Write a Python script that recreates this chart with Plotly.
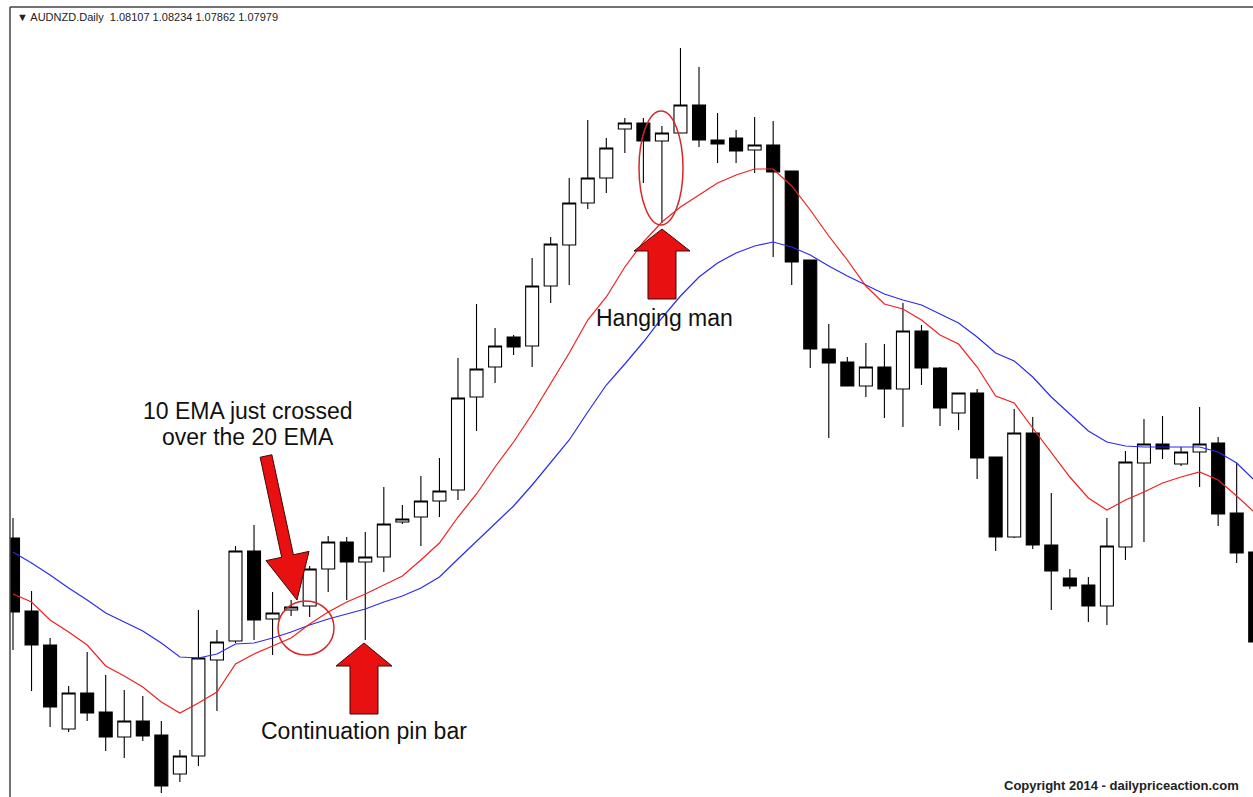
import plotly.graph_objects as go

# AUDNZD daily bars (index = bar number from the left edge of the chart)
bar_index = list(range(68))

open_ = [1.08462, 1.08389, 1.08355, 1.08271, 1.08307, 1.08288, 1.08263, 1.08279, 1.08265, 1.08226,
         1.08244, 1.08340, 1.08359, 1.08449, 1.08381, 1.08390, 1.08394, 1.08431, 1.08458, 1.08438,
         1.08443, 1.08478, 1.08483, 1.08499, 1.08510, 1.08603, 1.08633, 1.08663, 1.08654, 1.08714,
         1.08755, 1.08797, 1.08822, 1.08871, 1.08877, 1.08859, 1.08867, 1.08895, 1.08860, 1.08862,
         1.08850, 1.08855, 1.08829, 1.08740, 1.08651, 1.08638, 1.08614, 1.08633, 1.08611, 1.08669,
         1.08632, 1.08587, 1.08607, 1.08543, 1.08463, 1.08567, 1.08455, 1.08422, 1.08415, 1.08394,
         1.08453, 1.08537, 1.08556, 1.08536, 1.08548, 1.08557, 1.08487, 1.08448]
high = [1.08482, 1.08409, 1.08362, 1.08314, 1.08348, 1.08325, 1.08310, 1.08304, 1.08279, 1.08250,
        1.08390, 1.08370, 1.08454, 1.08475, 1.08408, 1.08400, 1.08434, 1.08464, 1.08463, 1.08468,
        1.08513, 1.08495, 1.08524, 1.08542, 1.08642, 1.08696, 1.08672, 1.08665, 1.08742, 1.08763,
        1.08822, 1.08880, 1.08862, 1.08882, 1.08882, 1.08874, 1.08952, 1.08933, 1.08887, 1.08870,
        1.08883, 1.08879, 1.08829, 1.08740, 1.08676, 1.08643, 1.08657, 1.08656, 1.08697, 1.08675,
        1.08633, 1.08607, 1.08611, 1.08543, 1.08591, 1.08583, 1.08507, 1.08431, 1.08423, 1.08482,
        1.08549, 1.08581, 1.08584, 1.08553, 1.08593, 1.08563, 1.08537, 1.08452]
low = [1.08350, 1.08309, 1.08273, 1.08268, 1.08279, 1.08249, 1.08242, 1.08259, 1.08207, 1.08218,
       1.08234, 1.08289, 1.08357, 1.08360, 1.08345, 1.08384, 1.08383, 1.08408, 1.08400, 1.08360,
       1.08428, 1.08476, 1.08454, 1.08483, 1.08500, 1.08569, 1.08617, 1.08645, 1.08633, 1.08697,
       1.08715, 1.08791, 1.08807, 1.08847, 1.08817, 1.08777, 1.08867, 1.08853, 1.08837, 1.08837,
       1.08827, 1.08743, 1.08715, 1.08632, 1.08562, 1.08614, 1.08603, 1.08582, 1.08573, 1.08615,
       1.08574, 1.08570, 1.08521, 1.08449, 1.08462, 1.08451, 1.08390, 1.08411, 1.08378, 1.08375,
       1.08440, 1.08458, 1.08541, 1.08534, 1.08513, 1.08474, 1.08437, 1.08355]
close = [1.08388, 1.08355, 1.08293, 1.08307, 1.08287, 1.08263, 1.08279, 1.08264, 1.08214, 1.08244,
         1.08342, 1.08358, 1.08449, 1.08380, 1.08387, 1.08393, 1.08431, 1.08458, 1.08438, 1.08443,
         1.08476, 1.08481, 1.08499, 1.08509, 1.08602, 1.08631, 1.08654, 1.08653, 1.08714, 1.08756,
         1.08797, 1.08822, 1.08852, 1.08877, 1.08859, 1.08867, 1.08895, 1.08860, 1.08856, 1.08849,
         1.08855, 1.08828, 1.08738, 1.08651, 1.08637, 1.08614, 1.08633, 1.08611, 1.08669, 1.08632,
         1.08592, 1.08607, 1.08542, 1.08463, 1.08567, 1.08455, 1.08429, 1.08414, 1.08394, 1.08454,
         1.08538, 1.08556, 1.08551, 1.08548, 1.08556, 1.08486, 1.08447, 1.08358]

ema10 = [1.08406, 1.08398, 1.08380, 1.08368, 1.08355, 1.08334, 1.08324, 1.08313, 1.08298, 1.08287,
         1.08297, 1.08308, 1.08336, 1.08346, 1.08354, 1.08362, 1.08376, 1.08388, 1.08398, 1.08406,
         1.08415, 1.08424, 1.08440, 1.08457, 1.08483, 1.08506, 1.08533, 1.08558, 1.08586, 1.08616,
         1.08647, 1.08680, 1.08703, 1.08733, 1.08758, 1.08778, 1.08793, 1.08805, 1.08817, 1.08825,
         1.08831, 1.08831, 1.08814, 1.08790, 1.08764, 1.08740, 1.08714, 1.08696, 1.08691, 1.08680,
         1.08665, 1.08656, 1.08633, 1.08604, 1.08597, 1.08572, 1.08548, 1.08523, 1.08502, 1.08490,
         1.08500, 1.08508, 1.08517, 1.08523, 1.08528, 1.08520, 1.08504, 1.08487]
ema20 = [1.08448, 1.08437, 1.08425, 1.08412, 1.08400, 1.08387, 1.08378, 1.08369, 1.08357, 1.08343,
         1.08342, 1.08346, 1.08356, 1.08357, 1.08362, 1.08368, 1.08375, 1.08381, 1.08386, 1.08391,
         1.08398, 1.08404, 1.08412, 1.08423, 1.08441, 1.08459, 1.08477, 1.08494, 1.08515, 1.08538,
         1.08560, 1.08588, 1.08615, 1.08636, 1.08658, 1.08682, 1.08704, 1.08723, 1.08737, 1.08747,
         1.08754, 1.08758, 1.08753, 1.08745, 1.08734, 1.08724, 1.08715, 1.08706, 1.08700, 1.08695,
         1.08686, 1.08677, 1.08663, 1.08647, 1.08639, 1.08623, 1.08603, 1.08586, 1.08569, 1.08558,
         1.08554, 1.08553, 1.08553, 1.08553, 1.08553, 1.08548, 1.08537, 1.08519]

HEADER = "▼ AUDNZD.Daily  1.08107 1.08234 1.07862 1.07979"

W, H = 1253, 797
LEFT, TOP = 10, 7
FONT = "Arial, Liberation Sans, sans-serif"
ARROW_RED = "#e81010"


def pp(x, y):
    """pixel position -> paper coords of the plot area"""
    return (x - LEFT) / (W - LEFT), (H - y) / (H - TOP)


def arrow_path(tail, tip, shaft_half, head_half, head_len):
    tx, ty = tail
    hx, hy = tip
    dx, dy = hx - tx, hy - ty
    n = (dx * dx + dy * dy) ** 0.5
    ux, uy = dx / n, dy / n
    nx, ny = -uy, ux
    bx, by = hx - ux * head_len, hy - uy * head_len
    pts = [(tx + nx * shaft_half, ty + ny * shaft_half),
           (bx + nx * shaft_half, by + ny * shaft_half),
           (bx + nx * head_half, by + ny * head_half),
           (hx, hy),
           (bx - nx * head_half, by - ny * head_half),
           (bx - nx * shaft_half, by - ny * shaft_half),
           (tx - nx * shaft_half, ty - ny * shaft_half)]
    parts = []
    for i, (x, y) in enumerate(pts):
        px_, py_ = pp(x, y)
        parts.append(("M" if i == 0 else "L") + f"{px_:.5f},{py_:.5f}")
    return " ".join(parts) + " Z"


def ellipse(cx, cy, rx, ry, color, width=1.5):
    x0, y0 = pp(cx - rx, cy + ry)
    x1, y1 = pp(cx + rx, cy - ry)
    return dict(type="circle", xref="paper", yref="paper", x0=x0, y0=y0, x1=x1, y1=y1,
                line=dict(color=color, width=width), layer="above")


def label(text, x, y, size, bold=False, color="#111111", anchor="center"):
    ax, ay = pp(x, y)
    return dict(text=f"<b>{text}</b>" if bold else text, x=ax, y=ay, xref="paper", yref="paper",
                xanchor=anchor, yanchor="middle", showarrow=False,
                font=dict(family=FONT, size=size, color=color))


fig = go.Figure()
fig.add_trace(go.Candlestick(
    x=bar_index, open=open_, high=high, low=low, close=close,
    increasing=dict(line=dict(color="#000000", width=1.1), fillcolor="#ffffff"),
    decreasing=dict(line=dict(color="#000000", width=1.1), fillcolor="#000000"),
    whiskerwidth=0, hoverinfo="skip", showlegend=False,
))
fig.add_trace(go.Scatter(x=bar_index, y=ema20, mode="lines",
                         line=dict(color="#2b2bf0", width=1.2), hoverinfo="skip", showlegend=False))
fig.add_trace(go.Scatter(x=bar_index, y=ema10, mode="lines",
                         line=dict(color="#f02020", width=1.2), hoverinfo="skip", showlegend=False))

shapes = [
    dict(type="line", xref="paper", yref="paper", x0=0, x1=0, y0=0, y1=1,
         line=dict(color="#444444", width=1.5)),
    dict(type="line", xref="paper", yref="paper", x0=0, x1=1, y0=1, y1=1,
         line=dict(color="#444444", width=1.5)),
    ellipse(306, 628, 28, 27, "#d42828"),
    ellipse(661, 168, 22, 57, "#d42828"),
]
for tail, tip, sh, hh, hl in [((266, 456), (297, 600), 6, 22, 45),
                              ((364, 714), (364, 643), 14, 28, 23),
                              ((662, 299), (662, 229), 14, 28, 22)]:
    shapes.append(dict(type="path", xref="paper", yref="paper", path=arrow_path(tail, tip, sh, hh, hl),
                       fillcolor=ARROW_RED, line=dict(color="#3a0a0a", width=1), layer="above"))

annotations = [
    label(HEADER, 15, 17, 11, color="#222222", anchor="left"),
    label("10 EMA just crossed", 248, 411, 23),
    label("over the 20 EMA", 248, 437, 23),
    label("Hanging man", 664, 318, 23),
    label("Continuation pin bar", 364, 731, 23),
    label("Copyright 2014 - dailypriceaction.com", 1121, 785, 13, bold=True, color="#222222"),
]

fig.update_layout(
    width=W, height=H,
    margin=dict(l=LEFT, r=0, t=TOP, b=0, autoexpand=False),
    plot_bgcolor="#ffffff", paper_bgcolor="#ffffff",
    boxgap=0.3, boxgroupgap=0,
    xaxis=dict(range=[-0.162, 66.88], visible=False, rangeslider=dict(visible=False), fixedrange=True),
    yaxis=dict(range=[1.08203, 1.08993], visible=False, fixedrange=True),
    shapes=shapes, annotations=annotations,
)

# the page's default 8px body margin would shift the chart; remove it
fig.write_html("out.html", config={"displayModeBar": False},
               post_script="document.body.style.margin='0';document.body.style.overflow='hidden';")
